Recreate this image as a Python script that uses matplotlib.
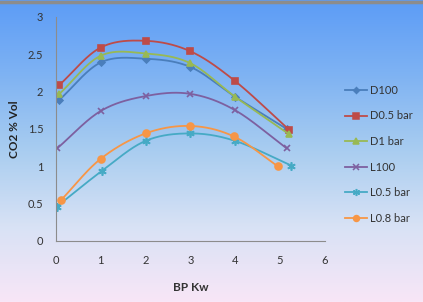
import numpy as np
import matplotlib.pyplot as plt
from matplotlib.colors import LinearSegmentedColormap

# data
series_names = ["D100", "D0.5 bar", "D1 bar", "L100", "L0.5 bar", "L0.8 bar"]
x_d100 = [0.08, 1.0, 2.0, 3.0, 4.0, 5.15]
y_d100 = [1.89, 2.39, 2.44, 2.33, 1.93, 1.50]
x_d05 = [0.08, 1.0, 2.0, 3.0, 4.0, 5.2]
y_d05 = [2.09, 2.59, 2.68, 2.54, 2.14, 1.49]
x_d1 = [0.08, 1.0, 2.0, 3.0, 4.0, 5.2]
y_d1 = [1.97, 2.48, 2.51, 2.38, 1.93, 1.43]
x_l100 = [0.03, 1.0, 2.0, 3.0, 4.0, 5.15]
y_l100 = [1.24, 1.74, 1.94, 1.97, 1.75, 1.24]
x_l05 = [0.02, 1.03, 2.0, 3.0, 4.0, 5.25]
y_l05 = [0.46, 0.94, 1.34, 1.44, 1.34, 1.01]
x_l08 = [0.12, 1.0, 2.0, 3.0, 3.97, 4.95]
y_l08 = [0.55, 1.10, 1.44, 1.54, 1.40, 1.00]

colors = ["#4a7ebb", "#be4b48", "#98b954", "#7d60a0", "#46aac5", "#f79646"]
markers = ["D", "s", "^", "x", (6, 2, 0), "o"]
msizes = [3.5, 5, 5, 5, 6, 5]


def smooth(xs, ys, n=30):
    # catmull-rom style curve, like Excel's smoothed lines
    xs = np.asarray(xs, float)
    ys = np.asarray(ys, float)
    px = np.concatenate([[2 * xs[0] - xs[1]], xs, [2 * xs[-1] - xs[-2]]])
    py = np.concatenate([[2 * ys[0] - ys[1]], ys, [2 * ys[-1] - ys[-2]]])
    outx, outy = [], []
    t = np.linspace(0, 1, n)
    for i in range(1, len(px) - 2):
        for p, out in ((px, outx), (py, outy)):
            p0, p1, p2, p3 = p[i - 1], p[i], p[i + 1], p[i + 2]
            out.extend(0.5 * (2 * p1 + (-p0 + p2) * t
                              + (2 * p0 - 5 * p1 + 4 * p2 - p3) * t ** 2
                              + (-p0 + 3 * p1 - 3 * p2 + p3) * t ** 3))
    return outx, outy


plt.rcParams['font.family'] = ['Lato', 'DejaVu Sans']

fig = plt.figure(figsize=(4.23, 3.02), dpi=100)

# gradient background
bg = fig.add_axes([0, 0, 1, 1], zorder=-1)
cmap = LinearSegmentedColormap.from_list(
    "bg", ["#5c9cf6", "#7fb3f3", "#a9cdf0", "#d8e2f5", "#f8e6f7"])
bg.imshow(np.linspace(0, 1, 256).reshape(-1, 1), aspect="auto", cmap=cmap,
          extent=[0, 1, 0, 1])
bg.plot([0, 1], [0.995, 0.995], color="#8c8c8c", lw=2.5)
bg.set_xlim(0, 1)
bg.set_ylim(0, 1)
bg.axis("off")

ax = fig.add_axes([0.132, 0.202, 0.636, 0.742])
ax.patch.set_alpha(0)

xs_all = [x_d100, x_d05, x_d1, x_l100, x_l05, x_l08]
ys_all = [y_d100, y_d05, y_d1, y_l100, y_l05, y_l08]
for name, xs, ys, c, m, ms in zip(series_names, xs_all, ys_all, colors, markers, msizes):
    sx, sy = smooth(xs, ys)
    ax.plot(sx, sy, color=c, lw=1.3)
    ax.plot(xs, ys, linestyle="none", marker=m, color=c, ms=ms, mew=1.2)
    ax.plot([], [], color=c, lw=1.3, marker=m, ms=ms * 0.85, mew=1.1, label=name)

ax.set_xlim(0, 6)
ax.set_ylim(0, 3)
ax.set_xticks(range(0, 7))
ax.set_yticks([0, 0.5, 1, 1.5, 2, 2.5, 3])
ax.set_yticklabels(["0", "0.5", "1", "1.5", "2", "2.5", "3"])
for s in ["top", "right"]:
    ax.spines[s].set_visible(False)
for s in ["left", "bottom"]:
    ax.spines[s].set_color("#8c8c8c")
    ax.spines[s].set_linewidth(0.8)
ax.tick_params(length=0, labelsize=8, labelcolor="#333333")
ax.tick_params(axis="x", pad=10)
ax.tick_params(axis="y", pad=9)

ax.set_xlabel("BP Kw", fontsize=8.5, fontweight="bold", color="#333333")
ax.set_ylabel("CO2 % Vol", fontsize=8.5, fontweight="bold", color="#222222")
ax.xaxis.set_label_coords(0.5, -0.183)
ax.yaxis.set_label_coords(-0.134, 0.5)

fig.legend(loc="upper left", bbox_to_anchor=(0.793, 0.752), frameon=False,
           fontsize=8, handlelength=1.9, handletextpad=0.3, labelspacing=1.31,
           labelcolor="#333333")

fig.savefig("out.png", dpi=100)
